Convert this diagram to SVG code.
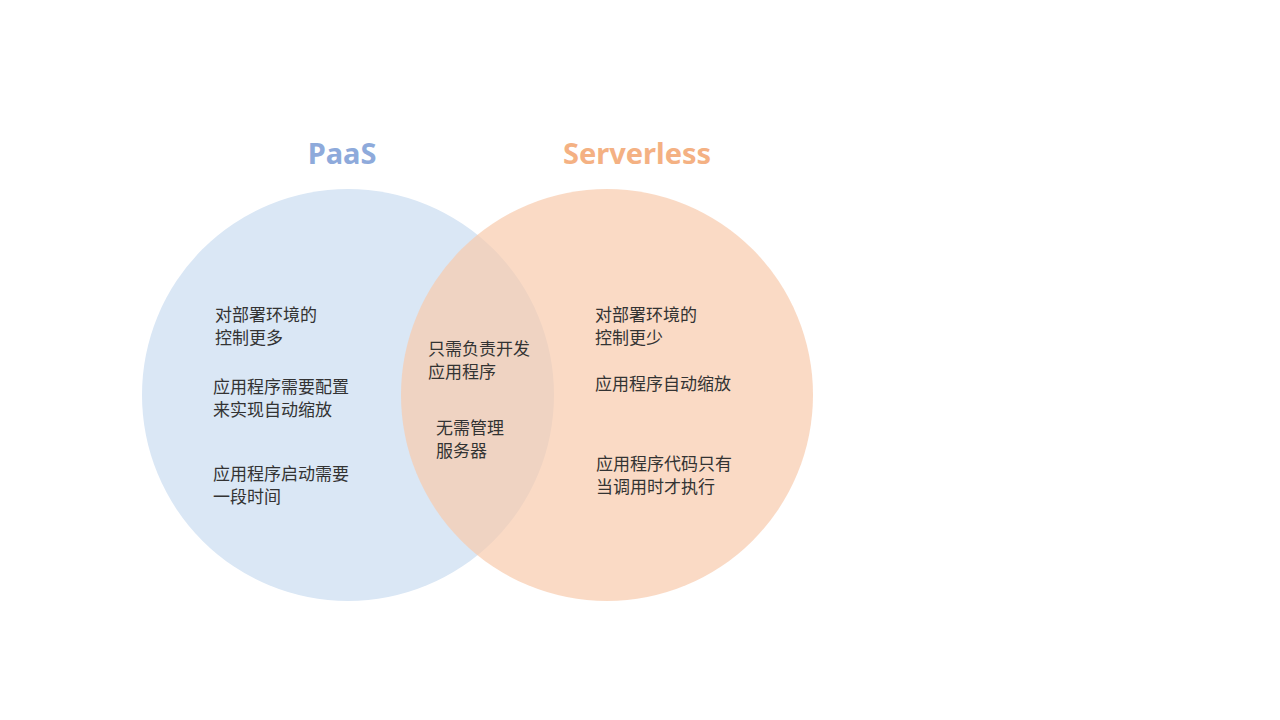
<svg xmlns="http://www.w3.org/2000/svg" width="1280" height="720" viewBox="0 0 1280 720">
<style>
.t{font-family:"Noto Sans CJK SC","Noto Sans",sans-serif;font-size:17px;fill:#333}
.h{font-family:"Noto Sans","Open Sans",sans-serif;font-size:29px;font-weight:bold;text-anchor:middle}
</style>
<rect width="1280" height="720" fill="#fff"/>
<g id="paas"><circle cx="348" cy="395" r="206" fill="#DAE7F5"/>
<text class="h" x="342" y="164" fill="#8EAADB">PaaS</text></g>
<g id="serverless"><circle cx="607" cy="395" r="206" fill="#F8CBAD" fill-opacity="0.7"/>
<text class="h" x="637" y="164" fill="#F4B183">Serverless</text></g>
<g id="left-text" class="t">
<text x="215" y="321">对部署环境的</text><text x="215" y="344">控制更多</text>
<text x="213" y="393">应用程序需要配置</text><text x="213" y="416">来实现自动缩放</text>
<text x="213" y="480">应用程序启动需要</text><text x="213" y="503">一段时间</text></g>
<g id="mid-text" class="t">
<text x="428" y="355">只需负责开发</text><text x="428" y="378">应用程序</text>
<text x="436" y="434">无需管理</text><text x="436" y="457">服务器</text></g>
<g id="right-text" class="t">
<text x="595" y="321">对部署环境的</text><text x="595" y="344">控制更少</text>
<text x="595" y="390">应用程序自动缩放</text>
<text x="596" y="470">应用程序代码只有</text><text x="596" y="493">当调用时才执行</text></g>
<g id="connectors"/>
</svg>
